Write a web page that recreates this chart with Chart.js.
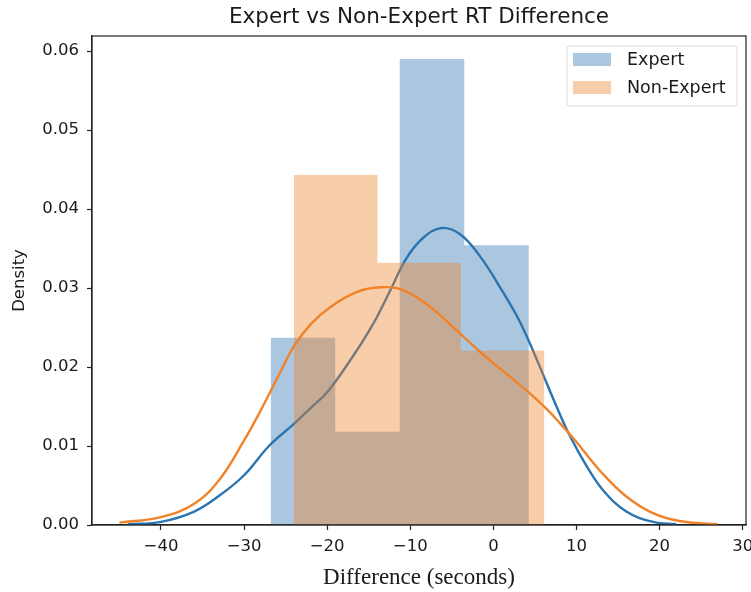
<!DOCTYPE html>
<html>
<head>
<meta charset="utf-8">
<script src="https://cdn.jsdelivr.net/npm/chart.js@4"></script>
<style>
  html, body { margin: 0; padding: 0; background: #fff; }
</style>
</head>
<body>
<canvas id="chart" width="751" height="592"></canvas>
<script>
const chartTitle = "Expert vs Non-Expert RT Difference";
const seriesNames = ["Expert", "Non-Expert"];

// histogram bins (edges) and densities
const expertEdges = [-26.8, -19.03, -11.27, -3.5, 4.27];
const expertDensity = [0.0237, 0.0118, 0.0590, 0.0354];
const nonExpertEdges = [-24.0, -13.95, -3.9, 6.14];
const nonExpertDensity = [0.0443, 0.0332, 0.0221];

// KDE curves
const expertKdeX = [-44, -40, -36, -33, -30, -27, -24, -22, -20, -17, -14.5, -12.5, -10.5, -8.5, -6.2, -4, -1.6, 1.2, 3.2, 5.2, 7.6, 9.2, 11.2, 13.2, 16, 19.2, 22];
const expertKdeY = [0.0001, 0.0004, 0.0017, 0.0037, 0.0063, 0.0100, 0.0128, 0.0148, 0.0168, 0.0212, 0.0254, 0.0295, 0.0337, 0.0363, 0.0376, 0.0368, 0.0340, 0.0294, 0.0257, 0.0210, 0.0150, 0.0113, 0.0075, 0.0044, 0.0017, 0.0004, 0.0001];
const nonExpertKdeX = [-45, -40, -36, -33, -30, -28, -26, -24, -22, -19.6, -16.4, -13.6, -10.8, -7.6, -4.4, -1.6, 0, 4, 6.4, 8, 10, 12.8, 16, 19.2, 22.4, 27];
const nonExpertKdeY = [0.0003, 0.0010, 0.0027, 0.0057, 0.0107, 0.0145, 0.0186, 0.0226, 0.0254, 0.0276, 0.0295, 0.0301, 0.0297, 0.0276, 0.0246, 0.0219, 0.0205, 0.0170, 0.0147, 0.0129, 0.0105, 0.0069, 0.0036, 0.0015, 0.0005, 0.0001];

const lineColors = ["#2c74b0", "#f0832a"];
const fillColors = ["rgba(43,114,174,0.4)", "rgba(238,130,40,0.4)"];
const textColor = "#1a1a1a";
const font = "'DejaVu Sans', sans-serif";

// step outline of a histogram, filled down to zero
function histOutline(edges, dens) {
  const pts = [{ x: edges[0], y: 0 }];
  dens.forEach((d, i) => {
    pts.push({ x: edges[i], y: d });
    pts.push({ x: edges[i + 1], y: d });
  });
  pts.push({ x: edges[edges.length - 1], y: 0 });
  return pts;
}

const toPoints = (xs, ys) => xs.map((x, i) => ({ x, y: ys[i] }));

function histDataset(label, pts, i, order) {
  return {
    label, data: pts, order,
    borderColor: "rgba(0,0,0,0)", borderWidth: 0,
    backgroundColor: fillColors[i], fill: "origin",
    pointRadius: 0, tension: 0
  };
}

function kdeDataset(label, pts, i, order) {
  return {
    label, data: pts, order,
    borderColor: lineColors[i], borderWidth: 2.4,
    fill: false, pointRadius: 0, tension: 0.4
  };
}

// title over the axes, legend box and full frame, matplotlib style
const boxLegend = {
  id: "boxLegend",
  afterDraw(chart) {
    const ctx = chart.ctx;
    const a = chart.chartArea;
    ctx.save();
    ctx.strokeStyle = "#222";
    ctx.lineWidth = 1.2;
    ctx.strokeRect(a.left, a.top, a.right - a.left, a.bottom - a.top);

    ctx.fillStyle = textColor;
    ctx.font = "21.5px " + font;
    ctx.textAlign = "center";
    ctx.textBaseline = "middle";
    ctx.fillText(chartTitle, (a.left + a.right) / 2, 17);

    const x0 = a.right - 179, y0 = a.top + 10;
    ctx.fillStyle = "rgba(255,255,255,0.8)";
    ctx.strokeStyle = "#d9d9d9";
    ctx.lineWidth = 1;
    ctx.beginPath();
    ctx.roundRect(x0, y0, 170, 60, 3);
    ctx.fill();
    ctx.stroke();
    ctx.font = "17.5px " + font;
    ctx.textAlign = "left";
    seriesNames.forEach((name, i) => {
      const y = y0 + 7 + i * 28;
      ctx.fillStyle = fillColors[i];
      ctx.fillRect(x0 + 6, y, 38, 13);
      ctx.fillStyle = textColor;
      ctx.fillText(name, x0 + 60, y + 7);
    });
    ctx.restore();
  }
};

const minus = v => (v < 0 ? "\u2212" + Math.abs(v) : String(v));

new Chart(document.getElementById("chart"), {
  type: "line",
  data: {
    datasets: [
      histDataset(seriesNames[0], histOutline(expertEdges, expertDensity), 0, 4),
      kdeDataset(seriesNames[0] + " KDE", toPoints(expertKdeX, expertKdeY), 0, 3),
      histDataset(seriesNames[1], histOutline(nonExpertEdges, nonExpertDensity), 1, 2),
      kdeDataset(seriesNames[1] + " KDE", toPoints(nonExpertKdeX, nonExpertKdeY), 1, 1)
    ]
  },
  options: {
    responsive: false,
    animation: false,
    devicePixelRatio: 1,
    layout: { padding: { left: 0, right: 5, top: 36, bottom: 0 } },
    plugins: {
      legend: { display: false },
      tooltip: { enabled: false },
      title: { display: false }
    },
    scales: {
      x: {
        type: "linear",
        min: -48.3,
        max: 30.4,
        ticks: {
          stepSize: 10, includeBounds: false, color: textColor,
          font: { family: font, size: 16.5 }, padding: 7, maxRotation: 0,
          callback: v => minus(v)
        },
        grid: { drawOnChartArea: false, tickLength: 5, tickColor: "#222", tickWidth: 1.2 },
        border: { color: "#222", width: 1.2 },
        title: {
          display: true, text: "Difference (seconds)", color: textColor,
          font: { family: "'Liberation Serif', serif", size: 23 },
          padding: { top: 0, bottom: 0 }
        },
        afterFit: s => { s.height = 67; s.paddingLeft = 0; s.paddingRight = 0; }
      },
      y: {
        min: 0,
        max: 0.0619,
        ticks: {
          stepSize: 0.01, includeBounds: false, color: textColor,
          font: { family: font, size: 16.5 }, padding: 8,
          callback: v => v.toFixed(2)
        },
        grid: { drawOnChartArea: false, tickLength: 5, tickColor: "#222", tickWidth: 1.2 },
        border: { color: "#222", width: 1.2 },
        title: {
          display: true, text: "Density", color: textColor,
          font: { family: font, size: 16.5 },
          padding: { top: 10, bottom: 4 }
        },
        afterFit: s => { s.width = 92; s.paddingTop = 0; s.paddingBottom = 0; }
      }
    }
  },
  plugins: [boxLegend]
});
</script>
</body>
</html>
